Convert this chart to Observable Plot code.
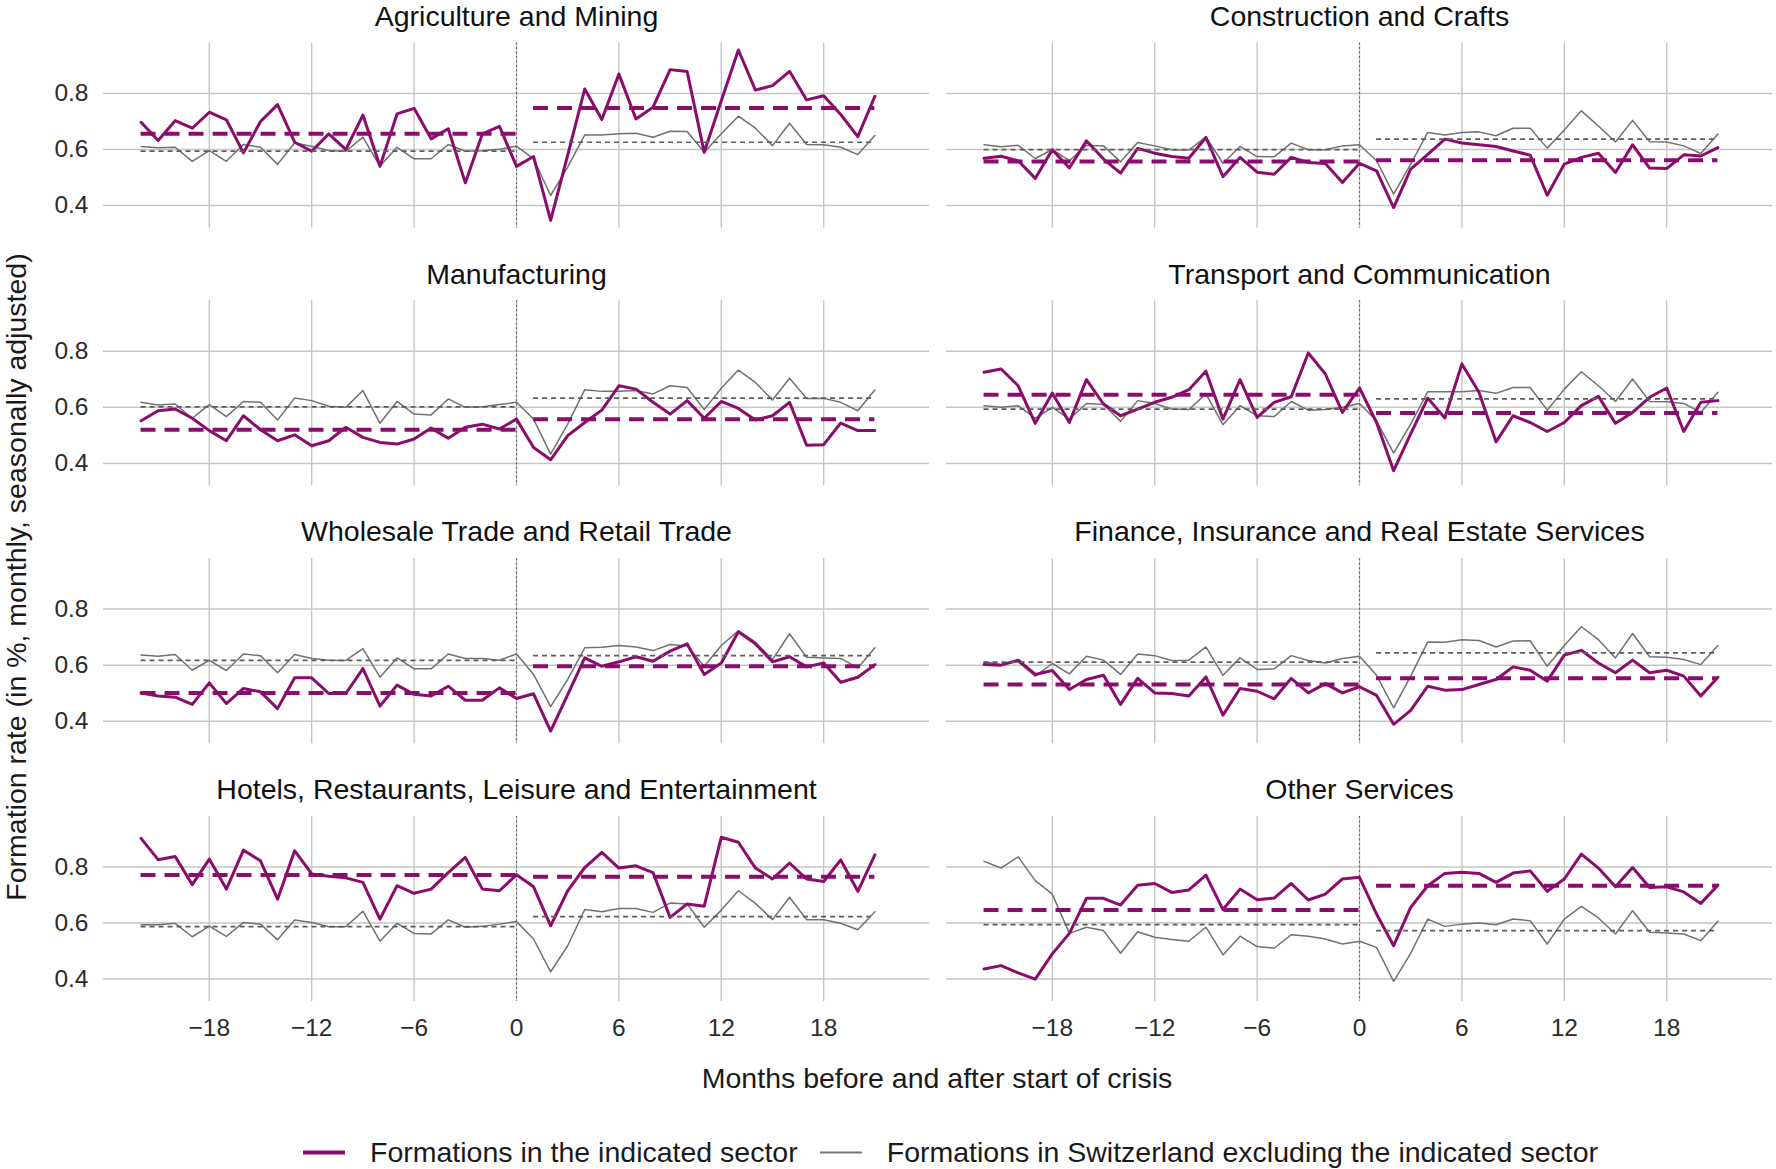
<!DOCTYPE html>
<html>
<head>
<meta charset="utf-8">
<script src="https://cdn.jsdelivr.net/npm/d3@7"></script>
<script src="https://cdn.jsdelivr.net/npm/@observablehq/plot@0.6"></script>
<style>
  html, body { margin: 0; padding: 0; background: #fff; }
  #wrap { position: relative; width: 1776px; height: 1169px; font-family: "Liberation Sans", Arial, Helvetica, sans-serif; color: #1a1a1a; overflow: hidden; }
  #chart { position: absolute; left: 0; top: 0; }
  #ytitle { position: absolute; left: 16px; top: 577px; transform: translate(-50%, -50%) rotate(-90deg); white-space: nowrap; font-size: 28.5px; }
  #xtitle { position: absolute; left: 937px; top: 1078px; transform: translate(-50%, -50%); white-space: nowrap; font-size: 28.5px; }
  #legend { position: absolute; left: 303px; top: 1152px; transform: translateY(-50%); display: flex; align-items: center; white-space: nowrap; font-size: 28.5px; }
  .sw { display: inline-block; width: 42px; margin-right: 25px; }
  .item { display: flex; align-items: center; margin-right: 22px; }
</style>
</head>
<body>
<div id="wrap">
  <div id="chart"></div>
  <div id="ytitle">Formation rate (in %, monthly, seasonally adjusted)</div>
  <div id="xtitle">Months before and after start of crisis</div>
  <div id="legend">
    <div class="item"><span class="sw" style="height:4px;background:#8a0c6c"></span><span>Formations in the indicated sector</span></div>
    <div class="item"><span class="sw" style="height:2px;background:#777"></span><span>Formations in Switzerland excluding the indicated sector</span></div>
  </div>
</div>
<script>
// ---- data ----
const months = [-22,-21,-20,-19,-18,-17,-16,-15,-14,-13,-12,-11,-10,-9,-8,-7,-6,-5,-4,-3,-2,-1,0,1,2,3,4,5,6,7,8,9,10,11,12,13,14,15,16,17,18,19,20,21];

const sectors = [
  "Agriculture and Mining",
  "Construction and Crafts",
  "Manufacturing",
  "Transport and Communication",
  "Wholesale Trade and Retail Trade",
  "Finance, Insurance and Real Estate Services",
  "Hotels, Restaurants, Leisure and Entertainment",
  "Other Services"
];

const xTicks = [-18, -12, -6, 0, 6, 12, 18];
const yTicks = [0.4, 0.6, 0.8];

// Formations in the indicated sector
const agriSector = [0.697,0.632,0.703,0.676,0.733,0.706,0.588,0.700,0.760,0.626,0.594,0.656,0.600,0.723,0.540,0.727,0.747,0.638,0.674,0.481,0.656,0.683,0.540,0.575,0.347,0.580,0.816,0.707,0.869,0.709,0.751,0.885,0.878,0.590,0.774,0.955,0.812,0.828,0.879,0.777,0.792,0.725,0.646,0.790];
const constSector = [0.569,0.576,0.560,0.497,0.599,0.534,0.631,0.566,0.516,0.604,0.587,0.575,0.569,0.643,0.503,0.572,0.519,0.512,0.572,0.554,0.550,0.482,0.551,0.524,0.393,0.530,0.583,0.637,0.623,0.617,0.611,0.595,0.580,0.437,0.548,0.572,0.587,0.518,0.617,0.534,0.532,0.581,0.577,0.607];
const manuSector = [0.552,0.588,0.594,0.561,0.517,0.481,0.570,0.520,0.481,0.502,0.463,0.481,0.529,0.493,0.475,0.469,0.487,0.526,0.490,0.529,0.540,0.523,0.558,0.457,0.413,0.499,0.546,0.590,0.677,0.665,0.618,0.576,0.624,0.561,0.621,0.596,0.555,0.570,0.618,0.465,0.467,0.544,0.517,0.517];
const transSector = [0.725,0.737,0.677,0.543,0.651,0.546,0.699,0.612,0.570,0.594,0.618,0.636,0.663,0.729,0.558,0.699,0.564,0.618,0.638,0.794,0.719,0.582,0.669,0.546,0.374,0.505,0.633,0.562,0.755,0.654,0.477,0.570,0.546,0.514,0.546,0.606,0.639,0.543,0.582,0.636,0.669,0.514,0.618,0.624];
const tradeSector = [0.501,0.490,0.486,0.460,0.537,0.463,0.517,0.505,0.445,0.555,0.555,0.499,0.499,0.588,0.454,0.529,0.496,0.490,0.525,0.475,0.475,0.519,0.481,0.498,0.365,0.495,0.626,0.596,0.612,0.630,0.614,0.650,0.676,0.567,0.608,0.719,0.676,0.612,0.630,0.594,0.608,0.539,0.557,0.602];
const finSector = [0.602,0.600,0.618,0.567,0.581,0.513,0.549,0.564,0.460,0.553,0.501,0.499,0.490,0.558,0.422,0.517,0.507,0.480,0.553,0.501,0.534,0.501,0.523,0.492,0.389,0.439,0.525,0.511,0.513,0.531,0.549,0.594,0.582,0.543,0.636,0.653,0.608,0.573,0.618,0.573,0.582,0.561,0.490,0.557];
const hotelSector = [0.902,0.826,0.837,0.737,0.828,0.721,0.860,0.822,0.685,0.858,0.775,0.767,0.761,0.745,0.614,0.733,0.706,0.721,0.780,0.834,0.721,0.715,0.772,0.729,0.590,0.715,0.798,0.852,0.796,0.804,0.780,0.620,0.668,0.660,0.906,0.888,0.796,0.757,0.814,0.757,0.748,0.825,0.713,0.843];
const otherSector = [0.436,0.448,0.422,0.400,0.490,0.563,0.688,0.688,0.664,0.735,0.741,0.709,0.718,0.771,0.648,0.721,0.683,0.689,0.741,0.682,0.703,0.757,0.763,0.632,0.519,0.656,0.733,0.777,0.781,0.777,0.745,0.778,0.786,0.713,0.757,0.846,0.796,0.729,0.798,0.727,0.729,0.711,0.670,0.735];

// Formations in Switzerland excluding the indicated sector
const agriRest = [0.611,0.606,0.608,0.558,0.596,0.558,0.618,0.608,0.547,0.623,0.612,0.596,0.594,0.644,0.540,0.608,0.567,0.567,0.618,0.594,0.596,0.601,0.612,0.567,0.436,0.537,0.652,0.652,0.656,0.658,0.644,0.665,0.664,0.590,0.656,0.719,0.676,0.614,0.694,0.618,0.617,0.608,0.582,0.650];
const constRest = [0.617,0.610,0.615,0.568,0.600,0.560,0.615,0.613,0.556,0.625,0.613,0.599,0.598,0.645,0.551,0.611,0.575,0.574,0.623,0.599,0.599,0.613,0.617,0.560,0.441,0.548,0.661,0.652,0.661,0.663,0.649,0.676,0.676,0.605,0.670,0.738,0.684,0.627,0.704,0.628,0.627,0.613,0.586,0.655];
const manuRest = [0.618,0.608,0.612,0.561,0.610,0.567,0.621,0.618,0.555,0.633,0.624,0.604,0.600,0.660,0.543,0.621,0.576,0.573,0.630,0.600,0.602,0.610,0.618,0.558,0.433,0.540,0.663,0.657,0.657,0.660,0.648,0.677,0.671,0.592,0.668,0.733,0.689,0.626,0.704,0.632,0.632,0.618,0.588,0.662];
const transRest = [0.606,0.600,0.606,0.561,0.600,0.558,0.614,0.610,0.550,0.624,0.614,0.594,0.592,0.648,0.538,0.606,0.570,0.567,0.621,0.590,0.592,0.600,0.614,0.552,0.437,0.540,0.656,0.656,0.656,0.660,0.650,0.671,0.671,0.590,0.665,0.727,0.677,0.621,0.701,0.621,0.620,0.614,0.582,0.654];
const tradeRest = [0.636,0.632,0.638,0.582,0.617,0.581,0.640,0.634,0.573,0.638,0.624,0.618,0.617,0.659,0.557,0.626,0.587,0.587,0.640,0.624,0.624,0.618,0.640,0.567,0.452,0.549,0.662,0.664,0.670,0.665,0.652,0.674,0.668,0.596,0.670,0.723,0.682,0.620,0.712,0.628,0.626,0.624,0.590,0.662];
const finRest = [0.612,0.602,0.612,0.561,0.606,0.569,0.632,0.618,0.567,0.640,0.634,0.617,0.618,0.665,0.564,0.626,0.585,0.587,0.634,0.617,0.608,0.624,0.632,0.564,0.448,0.561,0.683,0.682,0.691,0.688,0.665,0.686,0.687,0.596,0.670,0.737,0.691,0.626,0.713,0.630,0.628,0.620,0.602,0.670];
const hotelRest = [0.594,0.594,0.599,0.551,0.589,0.552,0.602,0.596,0.540,0.611,0.602,0.587,0.587,0.642,0.535,0.599,0.563,0.561,0.611,0.585,0.588,0.596,0.605,0.543,0.426,0.519,0.648,0.640,0.652,0.652,0.638,0.671,0.668,0.585,0.646,0.715,0.670,0.612,0.692,0.612,0.612,0.599,0.576,0.640];
const otherRest = [0.820,0.796,0.836,0.751,0.703,0.563,0.585,0.573,0.492,0.569,0.549,0.541,0.535,0.585,0.486,0.553,0.516,0.510,0.558,0.553,0.543,0.525,0.535,0.513,0.392,0.492,0.614,0.588,0.596,0.600,0.594,0.614,0.608,0.525,0.614,0.659,0.618,0.561,0.644,0.567,0.564,0.561,0.537,0.606];

const sectorSeries = [agriSector, constSector, manuSector, transSector, tradeSector, finSector, hotelSector, otherSector];
const restSeries = [agriRest, constRest, manuRest, transRest, tradeRest, finRest, hotelRest, otherRest];

// period means (before: months -22..0, after: months 1..21)
const preSectorMean  = [0.656, 0.557, 0.520, 0.645, 0.501, 0.531, 0.771, 0.646];
const postSectorMean = [0.748, 0.562, 0.558, 0.580, 0.596, 0.553, 0.765, 0.733];
const preRestMean    = [0.594, 0.600, 0.602, 0.594, 0.617, 0.611, 0.587, 0.594];
const postRestMean   = [0.626, 0.637, 0.633, 0.630, 0.634, 0.644, 0.623, 0.573];
const prePeriod = [-22, 0];
const postPeriod = [1, 21];

// ---- tables for the library ----
const cell = i => ({col: i % 2, row: Math.floor(i / 2)});
const sectorRows = [], restRows = [], meanSector = [], meanRest = [], titles = [];
sectors.forEach((name, i) => {
  const {col, row} = cell(i);
  titles.push({name, col, row});
  months.forEach((m, j) => {
    sectorRows.push({col, row, month: m, value: sectorSeries[i][j]});
    restRows.push({col, row, month: m, value: restSeries[i][j]});
  });
  meanSector.push({col, row, x1: prePeriod[0], x2: prePeriod[1], y: preSectorMean[i]});
  meanSector.push({col, row, x1: postPeriod[0], x2: postPeriod[1], y: postSectorMean[i]});
  meanRest.push({col, row, x1: prePeriod[0], x2: prePeriod[1], y: preRestMean[i]});
  meanRest.push({col, row, x1: postPeriod[0], x2: postPeriod[1], y: postRestMean[i]});
});

const purple = "#8a0c6c";
const grey = "#717171";
const gridColor = "#c6c6c6";
const fmtX = d => d < 0 ? "\u2212" + Math.abs(d) : String(d);

const chart = Plot.plot({
  width: 1776,
  height: 1046,
  marginLeft: 103,
  marginRight: 4,
  marginTop: 42.5,
  marginBottom: 45,
  style: {fontFamily: "'Liberation Sans', Arial, Helvetica, sans-serif", fontSize: "24.5px", color: "#2b2b2b", background: "#fff"},
  x: {domain: [-24.2, 24.2]},
  y: {domain: [0.32, 0.98]},
  fx: {domain: [0, 1], paddingInner: 17 / 843, paddingOuter: 0, round: false, axis: null},
  fy: {domain: [0, 1, 2, 3], paddingInner: 0.2824, paddingOuter: 0, round: false, axis: null},
  marks: [
    Plot.gridY(yTicks, {stroke: gridColor, strokeOpacity: 1, strokeWidth: 1.5}),
    Plot.gridX(xTicks, {stroke: gridColor, strokeOpacity: 1, strokeWidth: 1.4}),
    Plot.ruleX([0], {stroke: "#666", strokeWidth: 1.1, strokeDasharray: "2,2.5"}),
    Plot.axisY(yTicks, {tickSize: 0, tickPadding: 15, tickFormat: d3.format(".1f"), label: null}),
    Plot.axisX(xTicks, {tickSize: 0, tickPadding: 17, tickFormat: fmtX, label: null}),
    Plot.line(restRows, {x: "month", y: "value", fx: "col", fy: "row", stroke: grey, strokeWidth: 1.5}),
    Plot.line(sectorRows, {x: "month", y: "value", fx: "col", fy: "row", stroke: purple, strokeWidth: 3}),
    Plot.ruleY(meanRest, {y: "y", x1: "x1", x2: "x2", fx: "col", fy: "row", stroke: "#5c5c5c", strokeWidth: 1.7, strokeDasharray: "5,4"}),
    Plot.ruleY(meanSector, {y: "y", x1: "x1", x2: "x2", fx: "col", fy: "row", stroke: purple, strokeWidth: 4, strokeDasharray: "15,9"}),
    Plot.text(titles, {text: "name", fx: "col", fy: "row", frameAnchor: "top", dy: -37.5, fontSize: 28.5, fill: "#111"})
  ]
});
document.getElementById("chart").appendChild(chart);
</script>
</body>
</html>
